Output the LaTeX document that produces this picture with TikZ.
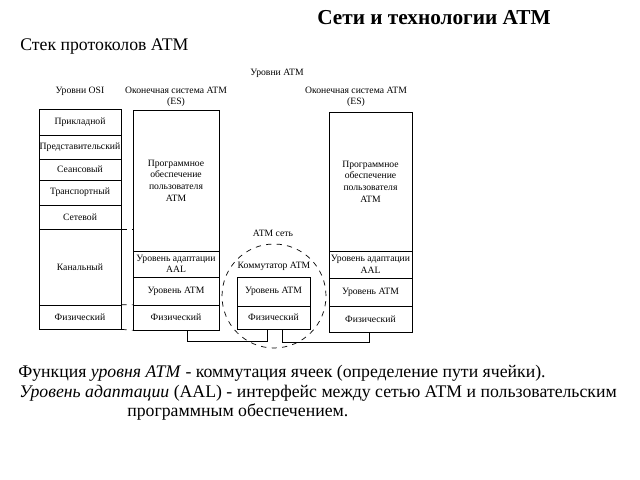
\documentclass[tikz,border=0pt]{standalone}
\usepackage{fontspec}
\setmainfont{Liberation Serif}
\usetikzlibrary{positioning}

\begin{document}
\begin{tikzpicture}[
    x=0.02cm, y=-0.02cm,
    font=\fontsize{5.5}{6.6}\selectfont,
    layer/.style={draw, thin, inner sep=0pt, align=center},
    osi/.style={layer, minimum width=16.4mm},
    esl/.style={layer, minimum width=17.2mm},
    esr/.style={layer, minimum width=16.6mm},
    sw/.style={layer, minimum width=14.6mm},
    head/.style={align=center, inner sep=0pt},
    note/.style={font=\fontsize{10.1}{12}\selectfont, anchor=west, inner sep=0pt},
    gap/.style={dashed, thin},
    wire/.style={thin}
]
\useasboundingbox (0,0) rectangle (640,480);

\node[font=\fontsize{12.1}{14}\selectfont\bfseries, inner sep=0pt] (title) at (434, 18) {Сети и технологии ATM};
\node[note] (stack) at (20, 47) {Стек протоколов ATM};

\node[head] (osihead) at (80, 91) {Уровни OSI};
\node[head] (atmhead) at (277, 73) {Уровни ATM};
\node[head] (es1head) at (176, 97) {Оконечная система ATM\\(ES)};
\node[head] (es2head) at (356, 97) {Оконечная система ATM\\(ES)};

\node[osi, minimum height=5.2mm] (appl) at (80, 122) {Прикладной};
\node[osi, minimum height=4.8mm] (pres) at (80, 147) {Представительский};
\node[osi, minimum height=4.2mm] (sess) at (80, 169.5) {Сеансовый};
\node[osi, minimum height=5mm] (trans) at (80, 192.5) {Транспортный};
\node[osi, minimum height=4.8mm] (net) at (80, 217) {Сетевой};
\node[osi, minimum height=15.2mm] (dlink) at (80, 267) {Канальный};
\node[osi, minimum height=4.8mm] (phys) at (80, 317) {Физический};

\node[esl, minimum height=28.2mm] (es1soft) at (176, 180.5) {Программное\\обеспечение\\пользователя\\ATM};
\node[esl, minimum height=5.2mm] (es1aal) at (176, 264) {Уровень адаптации\\AAL};
\node[esl, minimum height=5.6mm] (es1atm) at (176, 291) {Уровень ATM};
\node[esl, minimum height=5mm] (es1phys) at (176, 317.5) {Физический};

\node[draw, dashed, thin, circle, minimum size=20.8mm] (atmnet) at (274, 296) {};
\node[head] (nethead) at (273, 233) {ATM сеть};
\node[head] (swhead) at (274, 266) {Коммутатор ATM};
\node[sw, minimum height=5.8mm] (swatm) at (273.5, 291.5) {Уровень ATM};
\node[sw, minimum height=4.6mm] (swphys) at (273.5, 317.5) {Физический};

\node[esr, minimum height=27.8mm] (es2soft) at (370.5, 181.5) {Программное\\обеспечение\\пользователя\\ATM};
\node[esr, minimum height=5.4mm] (es2aal) at (370.5, 264.5) {Уровень адаптации\\AAL};
\node[esr, minimum height=5.6mm] (es2atm) at (370.5, 292) {Уровень ATM};
\node[esr, minimum height=5.2mm] (es2phys) at (370.5, 319) {Физический};

\draw[gap] (net.south east) -- (net.south east -| es1soft.west);
\draw[gap] (phys.north east) -- (es1phys.north west);
\draw[gap] (phys.south east) -- (es1phys.south west);

\draw[wire] ([xshift=2.2mm]es1phys.south) -- ++(0,11) -| ([xshift=-1.3mm]swphys.south);
\draw[wire] ([xshift=1.7mm]swphys.south) -- ++(0,13) -| ([xshift=-0.3mm]es2phys.south);

\node[note] (line1) at (18, 373) {Функция \textit{уровня ATM} - коммутация ячеек (определение пути ячейки).};
\node[note] (line2) at (19, 393) {\textit{Уровень адаптации} (AAL) - интерфейс между сетью ATM и пользовательским};
\node[note] (line3) at (127, 412) {программным обеспечением.};
\end{tikzpicture}
\end{document}
